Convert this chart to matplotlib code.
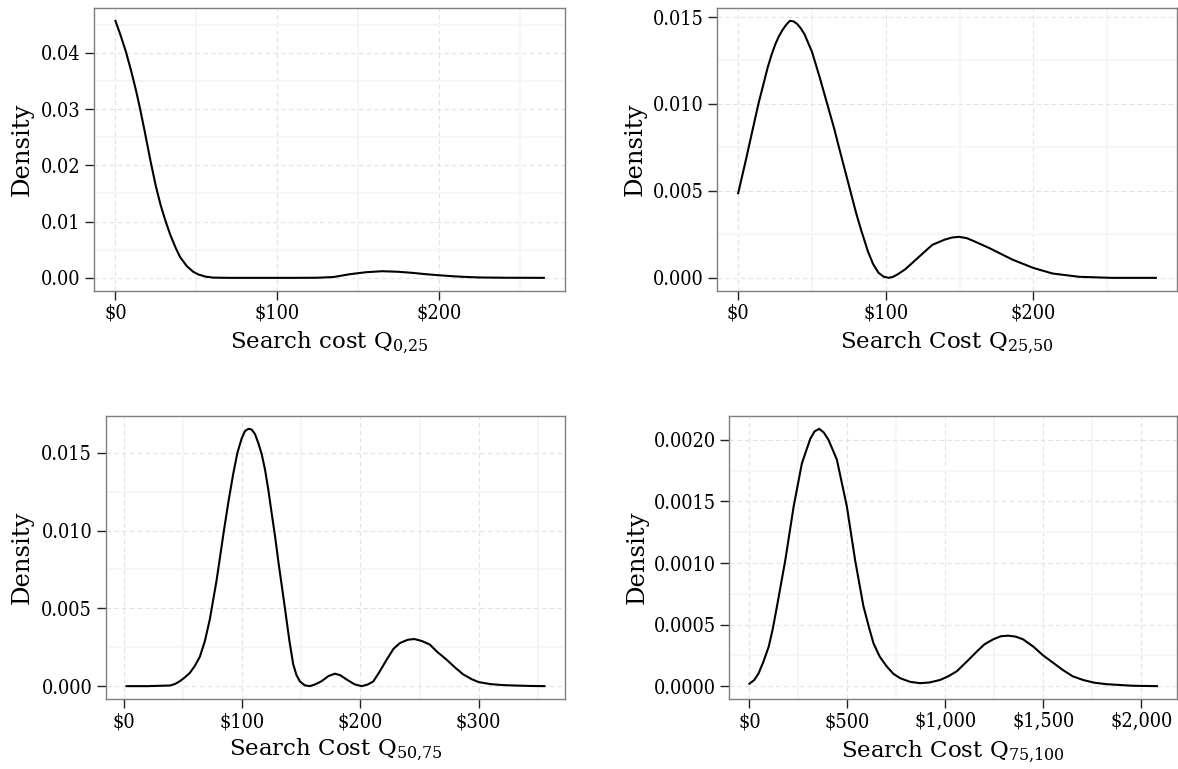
import matplotlib
matplotlib.use("Agg")
import matplotlib.pyplot as plt
from matplotlib import font_manager
from matplotlib.ticker import FixedLocator, FixedFormatter

plt.rcParams['font.family'] = 'DejaVu Serif'
plt.rcParams['mathtext.fontset'] = 'dejavuserif'

# Kernel density estimates of search cost, one per quartile group
q1_cost = [0, 3, 6.6, 10, 13, 15.3, 18, 21.9, 25, 28, 31.1, 34, 37.3, 40, 44.1, 48,
           51.3, 56, 60.6, 70, 90, 110, 125, 135, 145, 155, 165, 175, 184, 192, 200,
           208, 215, 225, 240, 265]
q1_density = [0.0457, 0.0433, 0.0401, 0.0365, 0.0330, 0.0300, 0.0262, 0.0205, 0.0163,
              0.0129, 0.0100, 0.0076, 0.0053, 0.0037, 0.0021, 0.0011, 0.0006, 0.0002,
              0.00004, 0.0, 0.0, 0.0, 0.00002, 0.00015, 0.00065, 0.0010, 0.00118,
              0.00108, 0.00088, 0.00065, 0.00046, 0.0003, 0.00018, 0.00007, 0.00002, 0.0]

q2_cost = [0, 5, 10, 13.7, 17, 20, 22.5, 25, 27.5, 30, 32.5, 35, 37.5, 40, 42.5, 45,
           50, 55, 58, 61, 65, 68, 72, 75.7, 80, 83.5, 88, 91.4, 95, 98.5, 102, 105,
           108, 113, 118, 125, 131.6, 140, 145, 149.7, 155, 160, 170, 185.8, 200, 213,
           231, 253, 283]
q2_density = [0.00487, 0.0067, 0.0086, 0.0100, 0.0111, 0.0121, 0.0128, 0.0134, 0.01388,
              0.01425, 0.01455, 0.01478, 0.01475, 0.0146, 0.01434, 0.0140, 0.0130,
              0.0116, 0.0107, 0.0098, 0.0086, 0.0076, 0.0063, 0.0051, 0.0037, 0.0027,
              0.0015, 0.0008, 0.0003, 0.00007, 0.0, 0.00006, 0.0002, 0.00048, 0.00086,
              0.0014, 0.0019, 0.0022, 0.00232, 0.00236, 0.00228, 0.0021, 0.00172,
              0.00105, 0.00057, 0.00025, 0.00006, 0.0, 0.0]

q3_cost = [2.3, 20, 38.9, 43, 47.4, 51.5, 55.8, 60, 64.3, 68.5, 72.7, 78.4, 84.6, 88.5,
           92.5, 96, 99.5, 102.4, 105.2, 108, 110.9, 113.8, 116.6, 119.4, 122.2, 125,
           127.9, 131, 134, 136.2, 140, 143.2, 146, 148.9, 153, 157.3, 162, 167.2, 173,
           178.5, 183, 188.3, 195, 201, 206, 210.9, 216, 222.2, 228, 233.4, 240, 245.6,
           252, 258.8, 265, 272.9, 280, 287, 294, 300, 310, 320, 330, 345, 355.6]
q3_density = [0.0, 0.0, 0.00004, 0.00013, 0.00032, 0.00056, 0.00085, 0.0013, 0.0019,
              0.0029, 0.0043, 0.0068, 0.0100, 0.0119, 0.01366, 0.0150, 0.0159, 0.0164,
              0.01654, 0.0165, 0.0162, 0.0156, 0.0149, 0.0139, 0.0126, 0.0111, 0.0096,
              0.0078, 0.0062, 0.0050, 0.0029, 0.0014, 0.0007, 0.0003, 0.00005, 0.0,
              0.00012, 0.00032, 0.00065, 0.0008, 0.0007, 0.00043, 0.00012, 0.0, 0.0001,
              0.0003, 0.0009, 0.0017, 0.0024, 0.00277, 0.00298, 0.00303, 0.0029,
              0.00267, 0.0022, 0.0017, 0.0012, 0.00075, 0.00045, 0.00026, 0.00013,
              0.00007, 0.00004, 0.00001, 0.0]

q4_cost = [0, 25, 47.5, 72, 98.5, 120, 141, 183, 226, 268, 311, 333, 356.5, 380, 404,
           446.5, 497.5, 540, 582, 610, 633, 665, 701, 735, 769, 820, 871, 920, 973,
           1015, 1058, 1110, 1160, 1200, 1244, 1283, 1321, 1360, 1397, 1450, 1499,
           1550, 1601, 1650, 1703, 1760, 1822, 1957, 2080]
q4_density = [0.000019, 0.00005, 0.000105, 0.0002, 0.00032, 0.00047, 0.00065, 0.00102,
              0.00146, 0.00181, 0.00201, 0.00207, 0.00209, 0.00206, 0.00200, 0.00184,
              0.00146, 0.00102, 0.00065, 0.00048, 0.00035, 0.00024, 0.00016, 0.0001,
              0.000065, 0.000035, 0.000024, 0.00003, 0.00005, 0.00008, 0.00012, 0.0002,
              0.00028, 0.00034, 0.00038, 0.000405, 0.00041, 0.000402, 0.00038, 0.00032,
              0.00025, 0.00019, 0.00013, 0.00008, 0.00005, 0.000028, 0.000016,
              0.000003, 0.0]

q1_xticks = [0, 100, 200]
q1_xlabels = ['$0', '$100', '$200']
q1_yticks = [0.0, 0.01, 0.02, 0.03, 0.04]
q1_ylabels = ['0.00', '0.01', '0.02', '0.03', '0.04']

q2_xticks = [0, 100, 200]
q2_xlabels = ['$0', '$100', '$200']
q2_yticks = [0.0, 0.005, 0.010, 0.015]
q2_ylabels = ['0.000', '0.005', '0.010', '0.015']

q3_xticks = [0, 100, 200, 300]
q3_xlabels = ['$0', '$100', '$200', '$300']
q3_yticks = [0.0, 0.005, 0.010, 0.015]
q3_ylabels = ['0.000', '0.005', '0.010', '0.015']

q4_xticks = [0, 500, 1000, 1500, 2000]
q4_xlabels = ['$0', '$500', '$1,000', '$1,500', '$2,000']
q4_yticks = [0.0, 0.0005, 0.0010, 0.0015, 0.0020]
q4_ylabels = ['0.0000', '0.0005', '0.0010', '0.0015', '0.0020']

titles = [r"Search cost Q$_{0{,}25}$", r"Search Cost Q$_{25{,}50}$",
          r"Search Cost Q$_{50{,}75}$", r"Search Cost Q$_{75{,}100}$"]

# narrower serif for the tick numbers
has_condensed = any(f.name == 'DejaVu Serif' and 'condensed' in str(f.stretch)
                    for f in font_manager.fontManager.ttflist)
if has_condensed:
    tick_font = dict(family='DejaVu Serif', stretch='condensed', size=14.3)
else:
    tick_font = dict(family='Liberation Serif', size=16.3)

W, H = 1178, 769
fig = plt.figure(figsize=(W / 100, H / 100), dpi=100)

# panel frames in pixels: left, right, top, bottom
frames = [(94, 565.3, 8, 290.7), (717.3, 1176.7, 8, 290.7),
          (105.7, 565.3, 416, 699), (729, 1177.3, 416, 699)]
ylabel_right = [33.3, 647, 33.3, 648.3]
xlabel_top = [329, 329, 736, 738]

panels = [
    (q1_cost, q1_density, q1_xticks, q1_xlabels, q1_yticks, q1_ylabels),
    (q2_cost, q2_density, q2_xticks, q2_xlabels, q2_yticks, q2_ylabels),
    (q3_cost, q3_density, q3_xticks, q3_xlabels, q3_yticks, q3_ylabels),
    (q4_cost, q4_density, q4_xticks, q4_xlabels, q4_yticks, q4_ylabels),
]

for i, (xs, ys, xt, xl, yt, yl) in enumerate(panels):
    l, r, t, b = frames[i]
    ax = fig.add_axes([l / W, 1 - b / H, (r - l) / W, (b - t) / H])
    ax.plot(xs, ys, color='black', lw=1.5, solid_joinstyle='round', zorder=3)
    ax.margins(0.05)

    ax.xaxis.set_major_locator(FixedLocator(xt))
    ax.xaxis.set_major_formatter(FixedFormatter(xl))
    ax.yaxis.set_major_locator(FixedLocator(yt))
    ax.yaxis.set_major_formatter(FixedFormatter(yl))
    xmid = [(a + c) / 2 for a, c in zip(xt[:-1], xt[1:])]
    xmid = [xt[0] - (xt[1] - xt[0]) / 2] + xmid + [xt[-1] + (xt[1] - xt[0]) / 2]
    ymid = [(a + c) / 2 for a, c in zip(yt[:-1], yt[1:])]
    ymid = ymid + [yt[-1] + (yt[1] - yt[0]) / 2]
    ax.xaxis.set_minor_locator(FixedLocator(xmid))
    ax.yaxis.set_minor_locator(FixedLocator(ymid))

    ax.grid(which='major', color='#E2E2E2', linestyle=(0, (4, 3)), lw=0.8, zorder=0)
    ax.grid(which='minor', color='#F6F6F6', linestyle='-', lw=1.5, zorder=0)
    ax.set_axisbelow(True)

    for s in ax.spines.values():
        s.set_color('#7F7F7F')
        s.set_linewidth(1.0)
    ax.tick_params(which='major', length=6.5, width=1.0, color='#222222',
                   labelcolor='black')
    ax.tick_params(axis='x', pad=3.0)
    ax.tick_params(axis='y', pad=3.2)
    ax.tick_params(which='minor', length=0)
    for lab in ax.get_xticklabels() + ax.get_yticklabels():
        lab.set_fontproperties(font_manager.FontProperties(**tick_font))

    ax.set_ylabel('Density', fontsize=17.5)
    ax.yaxis.set_label_coords((ylabel_right[i] - l) / (r - l), 0.5)
    ax.set_xlabel(titles[i], fontsize=16.5)
    ax.xaxis.set_label_coords(0.5, (b - xlabel_top[i]) / (b - t))

fig.savefig('out.png', dpi=100)
